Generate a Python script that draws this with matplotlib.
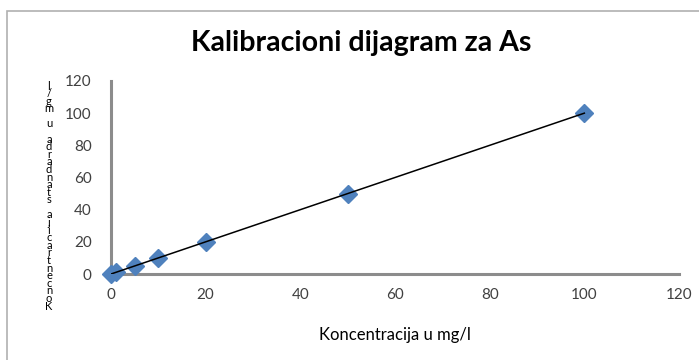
import numpy as np
import matplotlib
matplotlib.use("Agg")
import matplotlib.pyplot as plt
from matplotlib.patches import Rectangle

# kalibracija za As
koncentracija = [0, 1, 5, 10, 20, 50, 100]
signal = [0, 1, 5, 10, 20, 50, 100]

naslov = "Kalibracioni dijagram za As"
x_naziv = "Koncentracija u mg/l"
y_naziv = "Koncentracija standarda u mg/l"
x_ticks = [0, 20, 40, 60, 80, 100, 120]
y_ticks = [0, 20, 40, 60, 80, 100, 120]

plt.rcParams["font.family"] = ["Lato", "DejaVu Sans"]

fig = plt.figure(figsize=(6.99, 3.60), dpi=100)

# okvir grafikona
fig.patches.append(Rectangle((7 / 699, -0.1), 1.2, (350 / 360) + 0.1 - 0.002,
                             transform=fig.transFigure, fill=False,
                             edgecolor="#b0b0b0", linewidth=1.2))

ax = fig.add_axes([111 / 699, 86 / 360, 568 / 699, 193 / 360])

ax.plot(koncentracija, signal, linestyle="none", marker="D", markersize=9.5,
        color="#4f81bd", zorder=3, clip_on=False)

# linearni trend
k, n = np.polyfit(koncentracija, signal, 1)
xt = np.array([min(koncentracija), max(koncentracija)])
ax.plot(xt, k * xt + n, color="black", linewidth=1.1, zorder=4)

ax.set_xlim(0, 120)
ax.set_ylim(0, 120)
ax.set_xticks(x_ticks)
ax.set_yticks(y_ticks)
ax.tick_params(length=0, labelsize=11, labelcolor="#404040", pad=10)
ax.tick_params(axis="y", pad=14)

for s in ["top", "right"]:
    ax.spines[s].set_visible(False)
for s in ["left", "bottom"]:
    ax.spines[s].set_color("#8c8c8c")
    ax.spines[s].set_linewidth(2.2)

fig.text(361 / 699, 1 - 43 / 360, naslov, ha="center", va="center",
         fontsize=20.5, fontweight="bold")
fig.text(395 / 699, 1 - 335 / 360, x_naziv, ha="center", va="center",
         fontsize=12)

# naziv y ose, slova slozena odozdo nagore
ys = np.linspace(1 - 306 / 360, 1 - 86 / 360, len(y_naziv))
for ch, y in zip(y_naziv, ys):
    fig.text(49 / 699, y, ch, ha="center", va="center", fontsize=8)

fig.savefig("out.png", dpi=100)
